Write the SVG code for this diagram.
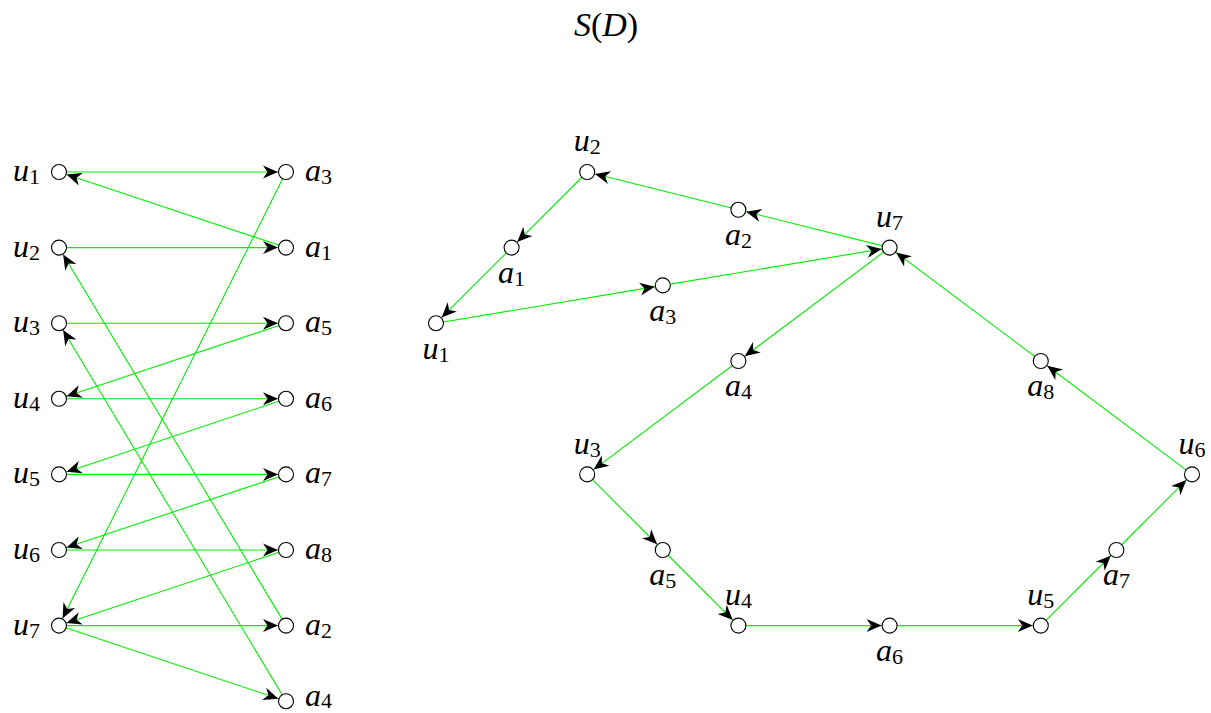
<svg xmlns="http://www.w3.org/2000/svg" width="1211" height="713" viewBox="0 0 1211 713">
<style>
.e{stroke:#00ee00;stroke-width:1.1;fill:none;marker-end:url(#ah)}
.n circle{fill:#fff;stroke:#000;stroke-width:1.1}
text{font-family:"Liberation Serif","Times New Roman",serif;font-size:32px;fill:#000}
.m{font-style:italic}
.s{font-size:22px;font-style:normal}
.lu{text-anchor:end}
.c{text-anchor:middle}
.t{font-size:34px}
</style>
<defs>
<marker id="ah" markerUnits="userSpaceOnUse" viewBox="-20 -10 30 20" markerWidth="30" markerHeight="20" refX="8" refY="0" orient="auto" overflow="visible">
<path d="M0,0 L-15,-6.5 L-10.5,0 L-15,6.5 Z" fill="#000"/>
</marker>
</defs>
<rect width="1211" height="713" fill="#fff"/>
<text x="606" y="36" class="c t"><tspan class="m">S</tspan>(<tspan class="m">D</tspan>)</text>
<g id="connectors">
<line class="e" x1="59" y1="172" x2="286" y2="172"/>
<line class="e" x1="286" y1="247.6" x2="59" y2="172"/>
<line class="e" x1="59" y1="247.6" x2="286" y2="247.6"/>
<line class="e" x1="286" y1="625.6" x2="59" y2="247.6"/>
<line class="e" x1="59" y1="323.2" x2="286" y2="323.2"/>
<line class="e" x1="286" y1="701.2" x2="59" y2="323.2"/>
<line class="e" x1="286" y1="323.2" x2="59" y2="398.8"/>
<line class="e" x1="59" y1="398.8" x2="286" y2="398.8"/>
<line class="e" x1="286" y1="398.8" x2="59" y2="474.4"/>
<line class="e" x1="59" y1="474.4" x2="286" y2="474.4"/>
<line class="e" x1="286" y1="474.4" x2="59" y2="550"/>
<line class="e" x1="59" y1="550" x2="286" y2="550"/>
<line class="e" x1="286" y1="550" x2="59" y2="625.6"/>
<line class="e" x1="286" y1="172" x2="59" y2="625.6"/>
<line class="e" x1="59" y1="625.6" x2="286" y2="625.6"/>
<line class="e" x1="59" y1="625.6" x2="286" y2="701.2"/>
<line class="e" x1="889.6" y1="247.6" x2="738.4" y2="209.8"/>
<line class="e" x1="738.4" y1="209.8" x2="587.2" y2="172"/>
<line class="e" x1="587.2" y1="172" x2="511.6" y2="247.6"/>
<line class="e" x1="511.6" y1="247.6" x2="436" y2="323.2"/>
<line class="e" x1="436" y1="323.2" x2="662.8" y2="285.4"/>
<line class="e" x1="662.8" y1="285.4" x2="889.6" y2="247.6"/>
<line class="e" x1="889.6" y1="247.6" x2="738.4" y2="361"/>
<line class="e" x1="738.4" y1="361" x2="587.2" y2="474.4"/>
<line class="e" x1="587.2" y1="474.4" x2="662.8" y2="550"/>
<line class="e" x1="662.8" y1="550" x2="738.4" y2="625.6"/>
<line class="e" x1="738.4" y1="625.6" x2="889.6" y2="625.6"/>
<line class="e" x1="889.6" y1="625.6" x2="1040.8" y2="625.6"/>
<line class="e" x1="1040.8" y1="625.6" x2="1116.4" y2="550"/>
<line class="e" x1="1116.4" y1="550" x2="1192" y2="474.4"/>
<line class="e" x1="1192" y1="474.4" x2="1040.8" y2="361"/>
<line class="e" x1="1040.8" y1="361" x2="889.6" y2="247.6"/>
</g>
<g id="L-u1" class="n"><circle cx="59" cy="172" r="7.5"/><text x="40" y="181" class="lu"><tspan class="m">u</tspan><tspan class="s" dy="3">1</tspan></text></g>
<g id="L-u2" class="n"><circle cx="59" cy="247.6" r="7.5"/><text x="40" y="256.6" class="lu"><tspan class="m">u</tspan><tspan class="s" dy="3">2</tspan></text></g>
<g id="L-u3" class="n"><circle cx="59" cy="323.2" r="7.5"/><text x="40" y="332.2" class="lu"><tspan class="m">u</tspan><tspan class="s" dy="3">3</tspan></text></g>
<g id="L-u4" class="n"><circle cx="59" cy="398.8" r="7.5"/><text x="40" y="407.8" class="lu"><tspan class="m">u</tspan><tspan class="s" dy="3">4</tspan></text></g>
<g id="L-u5" class="n"><circle cx="59" cy="474.4" r="7.5"/><text x="40" y="483.4" class="lu"><tspan class="m">u</tspan><tspan class="s" dy="3">5</tspan></text></g>
<g id="L-u6" class="n"><circle cx="59" cy="550" r="7.5"/><text x="40" y="559" class="lu"><tspan class="m">u</tspan><tspan class="s" dy="3">6</tspan></text></g>
<g id="L-u7" class="n"><circle cx="59" cy="625.6" r="7.5"/><text x="40" y="634.6" class="lu"><tspan class="m">u</tspan><tspan class="s" dy="3">7</tspan></text></g>
<g id="L-a3" class="n"><circle cx="286" cy="172" r="7.5"/><text x="305" y="181"><tspan class="m">a</tspan><tspan class="s" dy="3">3</tspan></text></g>
<g id="L-a1" class="n"><circle cx="286" cy="247.6" r="7.5"/><text x="305" y="256.6"><tspan class="m">a</tspan><tspan class="s" dy="3">1</tspan></text></g>
<g id="L-a5" class="n"><circle cx="286" cy="323.2" r="7.5"/><text x="305" y="332.2"><tspan class="m">a</tspan><tspan class="s" dy="3">5</tspan></text></g>
<g id="L-a6" class="n"><circle cx="286" cy="398.8" r="7.5"/><text x="305" y="407.8"><tspan class="m">a</tspan><tspan class="s" dy="3">6</tspan></text></g>
<g id="L-a7" class="n"><circle cx="286" cy="474.4" r="7.5"/><text x="305" y="483.4"><tspan class="m">a</tspan><tspan class="s" dy="3">7</tspan></text></g>
<g id="L-a8" class="n"><circle cx="286" cy="550" r="7.5"/><text x="305" y="559"><tspan class="m">a</tspan><tspan class="s" dy="3">8</tspan></text></g>
<g id="L-a2" class="n"><circle cx="286" cy="625.6" r="7.5"/><text x="305" y="634.6"><tspan class="m">a</tspan><tspan class="s" dy="3">2</tspan></text></g>
<g id="L-a4" class="n"><circle cx="286" cy="701.2" r="7.5"/><text x="305" y="706"><tspan class="m">a</tspan><tspan class="s" dy="2">4</tspan></text></g>
<g id="R-u2" class="n"><circle cx="587.2" cy="172" r="7.5"/><text x="587.2" y="151" class="c"><tspan class="m">u</tspan><tspan class="s" dy="3">2</tspan></text></g>
<g id="R-a2" class="n"><circle cx="738.4" cy="209.8" r="7.5"/><text x="738.4" y="245" class="c"><tspan class="m">a</tspan><tspan class="s" dy="3">2</tspan></text></g>
<g id="R-u7" class="n"><circle cx="889.6" cy="247.6" r="7.5"/><text x="889.6" y="227" class="c"><tspan class="m">u</tspan><tspan class="s" dy="3">7</tspan></text></g>
<g id="R-a1" class="n"><circle cx="511.6" cy="247.6" r="7.5"/><text x="511.6" y="283" class="c"><tspan class="m">a</tspan><tspan class="s" dy="3">1</tspan></text></g>
<g id="R-a3" class="n"><circle cx="662.8" cy="285.4" r="7.5"/><text x="662.8" y="320.5" class="c"><tspan class="m">a</tspan><tspan class="s" dy="3">3</tspan></text></g>
<g id="R-u1" class="n"><circle cx="436" cy="323.2" r="7.5"/><text x="436" y="358.5" class="c"><tspan class="m">u</tspan><tspan class="s" dy="3">1</tspan></text></g>
<g id="R-a4" class="n"><circle cx="738.4" cy="361" r="7.5"/><text x="738.4" y="396" class="c"><tspan class="m">a</tspan><tspan class="s" dy="3">4</tspan></text></g>
<g id="R-a8" class="n"><circle cx="1040.8" cy="361" r="7.5"/><text x="1040.8" y="396" class="c"><tspan class="m">a</tspan><tspan class="s" dy="3">8</tspan></text></g>
<g id="R-u3" class="n"><circle cx="587.2" cy="474.4" r="7.5"/><text x="587.2" y="453.5" class="c"><tspan class="m">u</tspan><tspan class="s" dy="3">3</tspan></text></g>
<g id="R-u6" class="n"><circle cx="1192" cy="474.4" r="7.5"/><text x="1192" y="453.5" class="c"><tspan class="m">u</tspan><tspan class="s" dy="3">6</tspan></text></g>
<g id="R-a5" class="n"><circle cx="662.8" cy="550" r="7.5"/><text x="662.8" y="585" class="c"><tspan class="m">a</tspan><tspan class="s" dy="3">5</tspan></text></g>
<g id="R-a7" class="n"><circle cx="1116.4" cy="550" r="7.5"/><text x="1116.4" y="585" class="c"><tspan class="m">a</tspan><tspan class="s" dy="3">7</tspan></text></g>
<g id="R-u4" class="n"><circle cx="738.4" cy="625.6" r="7.5"/><text x="738.4" y="605" class="c"><tspan class="m">u</tspan><tspan class="s" dy="3">4</tspan></text></g>
<g id="R-a6" class="n"><circle cx="889.6" cy="625.6" r="7.5"/><text x="889.6" y="661" class="c"><tspan class="m">a</tspan><tspan class="s" dy="3">6</tspan></text></g>
<g id="R-u5" class="n"><circle cx="1040.8" cy="625.6" r="7.5"/><text x="1040.8" y="605" class="c"><tspan class="m">u</tspan><tspan class="s" dy="3">5</tspan></text></g>
</svg>
